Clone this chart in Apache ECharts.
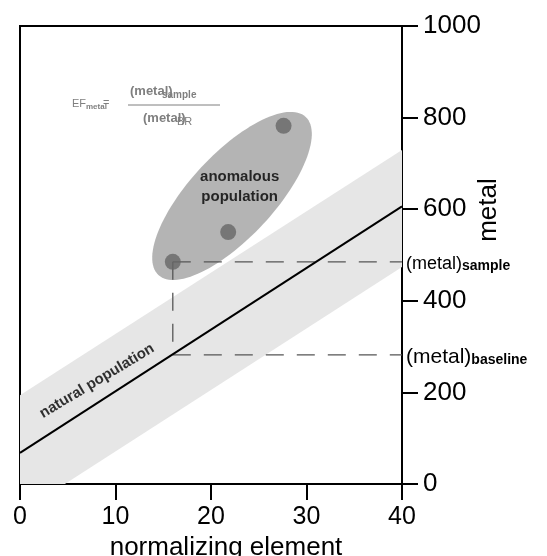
<!DOCTYPE html>
<html>
<head>
<meta charset="utf-8">
<script src="https://cdn.jsdelivr.net/npm/echarts@6/dist/echarts.min.js"></script>
<style>
  html, body { margin: 0; padding: 0; background: #fff; }
  #chart { width: 547px; height: 556px; }
</style>
</head>
<body>
<div id="chart"></div>
<script>
// Sample concentrations: normalizing element vs metal
const sampleX = [16, 21.8, 27.6];
const sampleY = [485, 550, 782];

// Regression line of the natural population
const trendX = [0, 40];
const trendY = [68, 606];

// Outline of the natural-population band (clipped at metal = 0)
const bandX = [0, 0, 40, 40, 4.7];
const bandY = [0, 194, 729, 474, 0];

// Centre of the anomalous-population envelope
const anomalyCenter = [22.2, 629];

// Reference levels used for the enrichment factor
const refX = 16;
const sampleLevel = 485;
const baselineLevel = 282;
const xMaxValue = 40;

const FONT = '"Liberation Sans", Arial, Helvetica, sans-serif';
const NARROW = '"Liberation Sans Narrow", "Liberation Sans", Arial, sans-serif';
const GREY = '#7f7f7f';

const chart = echarts.init(document.getElementById('chart'), null, { renderer: 'canvas' });

function dashed(points, labelRich, labelText) {
  const s = {
    type: 'line',
    data: points,
    symbol: 'none',
    silent: true,
    z: 3,
    lineStyle: { color: '#555', width: 1.3, type: [18, 13] },
    animation: false
  };
  if (labelText) {
    s.endLabel = {
      show: true,
      distance: 4,
      formatter: labelText,
      rich: labelRich
    };
  }
  return s;
}

const option = {
  animation: false,
  backgroundColor: '#fff',
  grid: {
    left: 20, right: 145, top: 26, bottom: 72,
    containLabel: false,
    outerBoundsMode: 'none',
    show: true,
    borderColor: '#000',
    borderWidth: 2,
    backgroundColor: 'transparent'
  },
  xAxis: {
    type: 'value',
    min: 0, max: 40, interval: 10,
    position: 'bottom',
    name: 'normalizing element',
    nameLocation: 'middle',
    nameGap: 48,
    nameTextStyle: { fontFamily: FONT, fontSize: 26, color: '#000', padding: [0, 0, 0, 30] },
    axisLine: { show: true, onZero: false, lineStyle: { color: '#000', width: 2 } },
    axisTick: { show: true, inside: false, length: 16, lineStyle: { color: '#000', width: 2 } },
    axisLabel: { show: true, margin: 21, fontFamily: FONT, fontSize: 25, color: '#000', showMinLabel: true, showMaxLabel: true },
    splitLine: { show: false }
  },
  yAxis: {
    type: 'value',
    min: 0, max: 1000, interval: 200,
    position: 'right',
    axisLine: { show: true, onZero: false, lineStyle: { color: '#000', width: 2 } },
    axisTick: { show: true, inside: false, length: 16, lineStyle: { color: '#000', width: 2 } },
    axisLabel: {
      show: true, margin: 21, fontFamily: FONT, fontSize: 26, color: '#000',
      showMinLabel: true, showMaxLabel: true,
      formatter: function (v) { return String(v); }
    },
    splitLine: { show: false }
  },
  graphic: [
    // y axis title
    {
      type: 'text', x: 489, y: 210, rotation: Math.PI / 2,
      style: { text: 'metal', font: '26px ' + FONT, fill: '#000', align: 'center', verticalAlign: 'middle' }
    },
    // enrichment factor formula
    { type: 'text', x: 72, y: 104, style: { text: 'EF', font: '11px ' + FONT, fill: GREY, verticalAlign: 'middle' } },
    { type: 'text', x: 86, y: 107, style: { text: 'metal', font: 'bold 8px ' + FONT, fill: GREY, verticalAlign: 'middle' } },
    { type: 'text', x: 103, y: 103, style: { text: '=', font: '11px ' + FONT, fill: GREY, verticalAlign: 'middle' } },
    { type: 'text', x: 130, y: 91, style: { text: '(metal)', font: 'bold 13px ' + NARROW, fill: GREY, verticalAlign: 'middle' } },
    { type: 'text', x: 162, y: 95, style: { text: 'sample', font: 'bold 10px ' + FONT, fill: GREY, verticalAlign: 'middle' } },
    { type: 'line', shape: { x1: 128, y1: 105, x2: 220, y2: 105 }, style: { stroke: GREY, lineWidth: 1 } },
    { type: 'text', x: 143, y: 118, style: { text: '(metal)', font: 'bold 13px ' + NARROW, fill: GREY, verticalAlign: 'middle' } },
    { type: 'text', x: 177, y: 122, style: { text: 'BR', font: '11px ' + FONT, fill: GREY, verticalAlign: 'middle' } }
  ],
  series: [
    {
      // natural population band
      type: 'custom',
      silent: true,
      z: 1,
      data: [[bandX[0], bandY[0]]],
      renderItem: function (params, api) {
        return {
          type: 'polygon',
          shape: { points: bandX.map((x, i) => api.coord([x, bandY[i]])) },
          style: { fill: '#e6e6e6' }
        };
      }
    },
    {
      // anomalous population envelope
      type: 'custom',
      silent: true,
      z: 2,
      data: [anomalyCenter],
      renderItem: function (params, api) {
        const c = api.coord([api.value(0), api.value(1)]);
        const a = 108, b = 42, phi = 47 * Math.PI / 180;
        const pts = [];
        for (let k = 0; k < 120; k++) {
          const t = k / 120 * 2 * Math.PI;
          const u = a * Math.cos(t), v = b * Math.sin(t);
          pts.push([
            c[0] + u * Math.cos(phi) - v * Math.sin(phi),
            c[1] - (u * Math.sin(phi) + v * Math.cos(phi))
          ]);
        }
        return { type: 'polygon', shape: { points: pts }, style: { fill: '#b4b4b4' } };
      }
    },
    dashed([[refX, sampleLevel], [refX, baselineLevel]]),
    dashed([[refX, sampleLevel], [xMaxValue, sampleLevel]], {
      m: { fontFamily: FONT, fontSize: 18, color: '#000', lineHeight: 22, verticalAlign: 'bottom' },
      s: { fontFamily: FONT, fontSize: 14, fontWeight: 'bold', color: '#000', lineHeight: 15, verticalAlign: 'bottom' }
    }, '{m|(metal)}{s|sample}'),
    dashed([[refX, baselineLevel], [xMaxValue, baselineLevel]], {
      m: { fontFamily: FONT, fontSize: 21, color: '#000', lineHeight: 25, verticalAlign: 'bottom' },
      s: { fontFamily: FONT, fontSize: 14, fontWeight: 'bold', color: '#000', lineHeight: 15, verticalAlign: 'bottom' }
    }, '{m|(metal)}{s|baseline}'),
    {
      // regression line
      type: 'line',
      data: trendX.map((x, i) => [x, trendY[i]]),
      symbol: 'none',
      silent: true,
      z: 4,
      lineStyle: { color: '#000', width: 2 }
    },
    {
      // samples
      type: 'scatter',
      data: sampleX.map((x, i) => [x, sampleY[i]]),
      symbol: 'circle',
      symbolSize: 16,
      z: 5,
      itemStyle: { color: '#666' }
    },
    {
      // in-plot annotations
      type: 'scatter',
      symbolSize: 0,
      silent: true,
      z: 6,
      data: [
        { value: [8.06, 225], label: { formatter: 'natural population', rotate: 31 } },
        { value: [23.0, 648], label: { formatter: 'anomalous\npopulation', lineHeight: 20 } }
      ],
      label: {
        show: true,
        position: 'inside',
        fontFamily: FONT,
        fontWeight: 'bold',
        fontSize: 15,
        color: '#000',
        align: 'center',
        verticalAlign: 'middle'
      }
    }
  ]
};

chart.setOption(option);
</script>
</body>
</html>
